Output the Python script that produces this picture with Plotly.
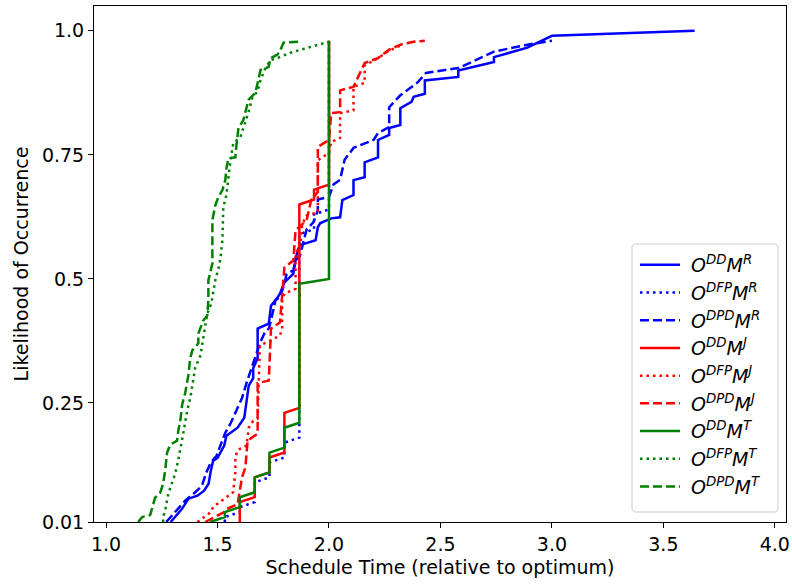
import plotly.graph_objects as go

# ---- data (x = schedule time relative to optimum, y = cumulative likelihood) ----
blue_solid = [(1.29,0.01),(1.32,0.026),(1.34,0.036),(1.37,0.057),(1.41,0.063),(1.44,0.073),(1.46,0.087),
              (1.47,0.113),(1.48,0.133),(1.50,0.139),(1.53,0.164),(1.54,0.184),(1.59,0.20),(1.62,0.22),
              (1.63,0.255),(1.64,0.285),(1.66,0.30),(1.66,0.32),(1.68,0.34),(1.68,0.40),(1.73,0.41),
              (1.74,0.446),(1.77,0.463),(1.78,0.47),(1.80,0.493),(1.84,0.51),(1.85,0.54),(1.86,0.558),
              (1.87,0.568),(1.94,0.578),(1.95,0.604),(1.96,0.612),(2.01,0.622),(2.05,0.624),(2.06,0.659),
              (2.11,0.669),(2.11,0.699),(2.16,0.705),(2.16,0.735),(2.22,0.745),(2.22,0.78),(2.27,0.79),
              (2.27,0.804),(2.32,0.81),(2.32,0.844),(2.37,0.857),(2.38,0.867),(2.43,0.873),(2.43,0.90),
              (2.58,0.907),(2.58,0.92),(2.74,0.937),(2.74,0.947),(2.89,0.966),(3.0,0.99),(3.64,1.0)]
blue_dotted = [(1.533,0.01),(1.533,0.02),(1.6,0.03),(1.6,0.04),(1.667,0.05),(1.667,0.09),(1.733,0.10),
               (1.733,0.13),(1.8,0.14),(1.8,0.17),(1.867,0.18),(1.867,0.59),(1.933,0.60),(1.933,0.63),
               (2.0,0.64),(2.0,0.98)]
blue_dashed = [(1.27,0.01),(1.31,0.03),(1.355,0.053),(1.40,0.07),(1.43,0.083),(1.45,0.11),(1.47,0.13),
               (1.495,0.143),(1.52,0.174),(1.535,0.19),(1.56,0.21),(1.58,0.23),(1.61,0.26),(1.63,0.29),
               (1.66,0.33),(1.67,0.34),(1.69,0.37),(1.71,0.39),(1.73,0.40),(1.74,0.416),(1.75,0.436),
               (1.76,0.457),(1.78,0.463),(1.80,0.49),(1.81,0.51),(1.84,0.517),(1.85,0.537),(1.87,0.547),
               (1.90,0.60),(1.93,0.614),(1.95,0.638),(1.95,0.66),(2.0,0.665),(2.02,0.69),(2.05,0.70),
               (2.07,0.74),(2.11,0.764),(2.20,0.78),(2.22,0.794),(2.27,0.806),(2.27,0.846),(2.29,0.855),
               (2.32,0.87),(2.38,0.89),(2.40,0.897),(2.435,0.915),(2.58,0.925),(2.64,0.937),(2.74,0.958),
               (2.89,0.972),(3.0,0.98)]
red_solid = [(1.6,0.01),(1.6,0.05),(1.667,0.06),(1.667,0.10),(1.733,0.11),(1.733,0.14),(1.8,0.15),
             (1.8,0.23),(1.867,0.24),(1.867,0.65),(1.933,0.66),(1.933,0.68),(2.0,0.69),(2.0,0.98)]
red_dotted = [(1.41,0.01),(1.47,0.03),(1.48,0.04),(1.57,0.07),(1.58,0.11),(1.58,0.14),(1.59,0.155),
              (1.63,0.164),(1.64,0.20),(1.66,0.214),(1.68,0.218),(1.69,0.366),(1.74,0.376),(1.78,0.386),
              (1.79,0.40),(1.79,0.457),(1.80,0.47),(1.85,0.48),(1.85,0.554),(1.87,0.56),(1.88,0.61),
              (1.90,0.628),(1.95,0.634),(1.95,0.739),(2.0,0.754),(2.01,0.776),(2.05,0.784),(2.05,0.834),
              (2.11,0.84),(2.11,0.887),(2.16,0.895),(2.16,0.93),(2.22,0.945),(2.27,0.96),(2.32,0.97)]
red_dashed = [(1.445,0.01),(1.53,0.03),(1.54,0.036),(1.59,0.046),(1.60,0.073),(1.61,0.10),(1.625,0.12),
              (1.635,0.174),(1.68,0.188),(1.68,0.29),(1.73,0.295),(1.74,0.40),(1.78,0.412),(1.79,0.47),
              (1.80,0.523),(1.84,0.537),(1.85,0.598),(1.90,0.618),(1.92,0.659),(1.95,0.675),(1.95,0.766),
              (2.0,0.78),(2.01,0.834),(2.05,0.836),(2.05,0.88),(2.11,0.887),(2.16,0.935),(2.22,0.945),
              (2.27,0.962),(2.32,0.972),(2.38,0.978),(2.43,0.98)]
green_solid = [(1.467,0.01),(1.533,0.02),(1.533,0.03),(1.6,0.04),(1.6,0.06),(1.667,0.07),(1.667,0.10),
               (1.733,0.11),(1.733,0.15),(1.8,0.16),(1.8,0.20),(1.867,0.21),(1.867,0.49),(2.0,0.50),
               (2.0,0.98)]
green_dotted = [(1.256,0.01),(1.256,0.02),(1.265,0.032),(1.279,0.067),(1.31,0.107),(1.324,0.135),
                (1.342,0.178),(1.355,0.214),(1.364,0.234),(1.378,0.26),(1.391,0.295),(1.40,0.321),
                (1.423,0.345),(1.432,0.37),(1.445,0.402),(1.454,0.43),(1.472,0.45),(1.481,0.477),
                (1.49,0.497),(1.504,0.521),(1.513,0.541),(1.522,0.578),(1.526,0.628),(1.526,0.644),
                (1.54,0.669),(1.549,0.703),(1.558,0.739),(1.571,0.774),(1.603,0.786),(1.62,0.81),
                (1.639,0.836),(1.657,0.867),(1.679,0.877),(1.693,0.901),(1.715,0.925),(1.738,0.941),
                (1.769,0.945),(1.828,0.956),(1.904,0.966),(2.0,0.978)]
green_dashed = [(1.144,0.01),(1.162,0.02),(1.198,0.024),(1.21,0.042),(1.22,0.059),(1.243,0.069),
                (1.256,0.087),(1.265,0.113),(1.274,0.15),(1.288,0.166),(1.319,0.174),(1.324,0.194),
                (1.333,0.214),(1.342,0.248),(1.355,0.27),(1.369,0.305),(1.378,0.341),(1.387,0.356),
                (1.414,0.37),(1.414,0.39),(1.436,0.416),(1.454,0.426),(1.459,0.457),(1.459,0.497),
                (1.477,0.531),(1.477,0.618),(1.49,0.648),(1.504,0.665),(1.522,0.679),(1.535,0.699),
                (1.54,0.723),(1.549,0.743),(1.58,0.745),(1.585,0.77),(1.594,0.804),(1.616,0.82),
                (1.639,0.861),(1.67,0.875),(1.684,0.907),(1.693,0.921),(1.729,0.927),(1.738,0.945),
                (1.769,0.952),(1.783,0.962),(1.796,0.976),(1.864,0.978)]

series_names = [
    "<i>O</i><sup><i>DD</i></sup><i>M</i><sup><i>R</i></sup>",
    "<i>O</i><sup><i>DFP</i></sup><i>M</i><sup><i>R</i></sup>",
    "<i>O</i><sup><i>DPD</i></sup><i>M</i><sup><i>R</i></sup>",
    "<i>O</i><sup><i>DD</i></sup><i>M</i><sup><i>J</i></sup>",
    "<i>O</i><sup><i>DFP</i></sup><i>M</i><sup><i>J</i></sup>",
    "<i>O</i><sup><i>DPD</i></sup><i>M</i><sup><i>J</i></sup>",
    "<i>O</i><sup><i>DD</i></sup><i>M</i><sup><i>T</i></sup>",
    "<i>O</i><sup><i>DFP</i></sup><i>M</i><sup><i>T</i></sup>",
    "<i>O</i><sup><i>DPD</i></sup><i>M</i><sup><i>T</i></sup>",
]
series_data = [blue_solid, blue_dotted, blue_dashed, red_solid, red_dotted, red_dashed,
               green_solid, green_dotted, green_dashed]
series_colors = ["#0000ff"] * 3 + ["#ff0000"] * 3 + ["#008000"] * 3
series_dash = ["solid", "2.5px,4px", "9px,4px"] * 3

x_ticks = [1.0, 1.5, 2.0, 2.5, 3.0, 3.5, 4.0]
x_ticktext = ["1.0", "1.5", "2.0", "2.5", "3.0", "3.5", "4.0"]
y_ticks = [0.01, 0.25, 0.5, 0.75, 1.0]
y_ticktext = ["0.01", "0.25", "0.5", "0.75", "1.0"]

fig = go.Figure()
for name, pts, col, dash in zip(series_names, series_data, series_colors, series_dash):
    fig.add_trace(go.Scatter(
        x=[p[0] for p in pts], y=[p[1] for p in pts], mode="lines", name="&nbsp;" + name,
        line=dict(color=col, width=2.5, dash=dash),
    ))

# legend frame (rounded, light grey, semi-transparent white) in paper coordinates
x0, x1, y0, y1 = 0.7775, 0.9884, 0.0194, 0.5388
rx, ry = 0.0058, 0.0078
frame_path = (f"M{x0+rx},{y0} L{x1-rx},{y0} Q{x1},{y0} {x1},{y0+ry} L{x1},{y1-ry} "
              f"Q{x1},{y1} {x1-rx},{y1} L{x0+rx},{y1} Q{x0},{y1} {x0},{y1-ry} "
              f"L{x0},{y0+ry} Q{x0},{y0} {x0+rx},{y0} Z")

FONT = "DejaVu Sans"
fig.update_layout(
    width=792, height=586,
    margin=dict(l=94, r=6, t=6, b=64),
    paper_bgcolor="white", plot_bgcolor="white",
    font=dict(family=FONT, size=19, color="black"),
    showlegend=True,
    shapes=[dict(type="path", xref="paper", yref="paper", path=frame_path,
                 fillcolor="rgba(255,255,255,0.8)", line=dict(color="#cccccc", width=1),
                 layer="above")],
    legend=dict(
        x=0.7818, y=0.5349, xanchor="left", yanchor="top",
        bgcolor="rgba(0,0,0,0)", borderwidth=0,
        font=dict(family=FONT, size=19, color="black"),
        itemwidth=40, tracegroupgap=0,
    ),
    xaxis=dict(
        range=[0.946, 4.05], tickvals=x_ticks, ticktext=x_ticktext,
        showline=True, mirror=True, linecolor="black", linewidth=1,
        ticks="outside", ticklen=5, tickcolor="black", tickwidth=1,
        showgrid=False, zeroline=False, automargin=False,
        title=dict(text="Schedule Time (relative to optimum)", font=dict(size=19), standoff=6),
    ),
    yaxis=dict(
        range=[0.01, 1.05], tickvals=y_ticks, ticktext=y_ticktext,
        showline=True, mirror=True, linecolor="black", linewidth=1,
        ticks="outside", ticklen=5, tickcolor="black", tickwidth=1,
        showgrid=False, zeroline=False, automargin=False,
        title=dict(text="Likelihood of Occurrence", font=dict(size=19), standoff=8),
    ),
)

fig.write_html("out.html", config={"displayModeBar": False},
               post_script="document.body.style.margin='0';")
